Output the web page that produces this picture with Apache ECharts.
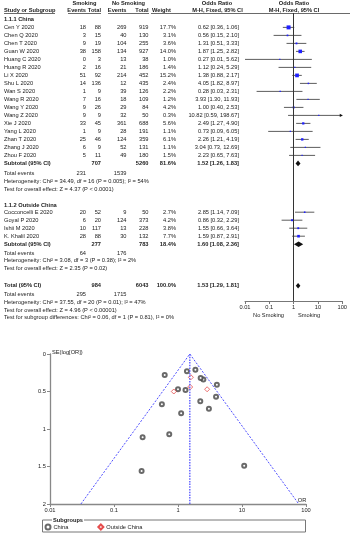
<!DOCTYPE html>
<html>
<head>
<meta charset="utf-8">
<script src="https://cdn.jsdelivr.net/npm/echarts@6/dist/echarts.min.js"></script>
<style>
html, body { margin: 0; padding: 0; background: #fff; }
#main { width: 350px; height: 533px; }
</style>
</head>
<body>
<div id="main"></div>
<script>
// ---- data ----
var chinaStudies = ['Cen Y 2020', 'Chen Q 2020', 'Chen T 2020', 'Guan W 2020', 'Huang C 2020', 'Huang R 2020', 'Li X 2020', 'Shu L 2020', 'Wan S 2020', 'Wang R 2020', 'Wang Y 2020', 'Wang Z 2020', 'Xie J 2020', 'Yang L 2020', 'Zhan T 2020', 'Zhang J 2020', 'Zhou F 2020'];
var chinaSmokEvents = [18, 3, 9, 38, 0, 2, 51, 14, 1, 7, 9, 9, 33, 1, 25, 6, 5];
var chinaSmokTotal = [88, 15, 19, 158, 3, 16, 92, 136, 9, 16, 26, 9, 45, 9, 46, 9, 11];
var chinaNoEvents = [269, 40, 104, 134, 13, 21, 214, 12, 39, 18, 29, 32, 361, 28, 124, 52, 49];
var chinaNoTotal = [919, 130, 255, 927, 38, 186, 452, 435, 126, 109, 84, 50, 688, 191, 359, 131, 180];
var chinaWeight = [17.7, 3.1, 3.6, 14.0, 1.0, 1.4, 15.2, 2.4, 2.2, 1.2, 4.2, 0.3, 5.6, 1.1, 6.1, 1.1, 1.5];
var chinaOR = [0.62, 0.56, 1.31, 1.87, 0.27, 1.12, 1.38, 4.05, 0.28, 3.93, 1.00, 10.82, 2.49, 0.73, 2.26, 3.04, 2.23];
var chinaLow = [0.36, 0.15, 0.51, 1.25, 0.01, 0.24, 0.88, 1.82, 0.03, 1.30, 0.40, 0.59, 1.27, 0.09, 1.21, 0.73, 0.65];
var chinaHigh = [1.06, 2.10, 3.33, 2.82, 5.62, 5.29, 2.17, 8.97, 2.31, 11.93, 2.53, 198.67, 4.90, 6.05, 4.19, 12.69, 7.63];
var chinaSE = [0.28, 0.67, 0.48, 0.21, 1.56, 0.79, 0.23, 0.41, 1.11, 0.57, 0.47, 1.49, 0.34, 1.07, 0.32, 0.73, 0.63];

var outsideStudies = ['Cocconcelli E 2020', 'Goyal P 2020', 'Ishii M 2020', 'K. Khalil 2020'];
var outsideSmokEvents = [20, 6, 10, 28];
var outsideSmokTotal = [52, 20, 117, 88];
var outsideNoEvents = [9, 124, 13, 30];
var outsideNoTotal = [50, 373, 228, 132];
var outsideWeight = [2.7, 4.2, 3.8, 7.7];
var outsideOR = [2.85, 0.86, 1.55, 1.59];
var outsideLow = [1.14, 0.32, 0.66, 0.87];
var outsideHigh = [7.09, 2.29, 3.64, 2.91];
var outsideSE = [0.47, 0.50, 0.44, 0.31];

// China subtotal, outside subtotal, overall total
var summaryLabels = ['Subtotal (95% CI)', 'Subtotal (95% CI)', 'Total (95% CI)'];
var summarySmokTotal = [707, 277, 984];
var summaryNoTotal = [5260, 783, 6043];
var summaryWeight = [81.6, 18.4, 100.0];
var summaryOR = [1.52, 1.60, 1.53];
var summaryLow = [1.26, 1.08, 1.29];
var summaryHigh = [1.83, 2.36, 1.81];
var totalEventsSmok = [231, 64, 295];
var totalEventsNo = [1539, 176, 1715];
var heterogeneityText = [
    'Heterogeneity: Chi\u00b2 = 34.49, df = 16 (P = 0.005); I\u00b2 = 54%',
    'Heterogeneity: Chi\u00b2 = 3.08, df = 3 (P = 0.38); I\u00b2 = 2%',
    'Heterogeneity: Chi\u00b2 = 37.55, df = 20 (P = 0.01); I\u00b2 = 47%'
];
var overallText = [
    'Test for overall effect: Z = 4.37 (P < 0.0001)',
    'Test for overall effect: Z = 2.35 (P = 0.02)',
    'Test for overall effect: Z = 4.96 (P < 0.00001)'
];
var subgroupText = 'Test for subgroup differences: Chi\u00b2 = 0.06, df = 1 (P = 0.81), I\u00b2 = 0%';

// funnel plot guide lines
var pooledOR = 1.53;
var funnelEdges = [[0.0304, 2], [1.53, 0], [77, 2]];
var funnelCentre = [[1.53, 0], [1.53, 2]];

// ---- layout ----
var FONT = '"Liberation Sans", Arial, sans-serif';
var FS = 5.7;
var TXT = '#222';
function rowPx(r) { return 13 + 8 * r; }
var col = { name: 4, se: 86, st: 101, ne: 126.5, nt: 148.5, w: 176, or: 239 };
var rows = {
    head1: -1.2, head2: -0.35,
    chinaHead: 0.75, chinaFirst: 1.8,
    outsideHead: 24, outsideFirst: 24.9,
    total: 34.1
};
rows.chinaSub = rows.chinaFirst + chinaStudies.length;
rows.outsideSub = rows.outsideFirst + outsideStudies.length;

var g = [];
function txt(x, r, s, align, bold) {
    g.push({
        type: 'text', silent: true,
        style: {
            text: s, x: x, y: rowPx(r), align: align || 'left', verticalAlign: 'middle',
            fill: TXT, font: (bold ? 'bold ' : '') + FS + 'px ' + FONT
        }
    });
}
function hline(x1, x2, y) {
    g.push({ type: 'line', silent: true, shape: { x1: x1, y1: y, x2: x2, y2: y }, style: { stroke: '#444', lineWidth: 0.8 } });
}
function fmtCI(o, l, h) { return o.toFixed(2) + ' [' + l.toFixed(2) + ', ' + h.toFixed(2) + ']'; }

// headers
txt(84.5, rows.head1, 'Smoking', 'center', true);
txt(128.5, rows.head1, 'No Smoking', 'center', true);
txt(217, rows.head1, 'Odds Ratio', 'center', true);
txt(294, rows.head1, 'Odds Ratio', 'center', true);
txt(col.name, rows.head2, 'Study or Subgroup', 'left', true);
txt(col.se, rows.head2, 'Events', 'right', true);
txt(col.st, rows.head2, 'Total', 'right', true);
txt(col.ne, rows.head2, 'Events', 'right', true);
txt(col.nt, rows.head2, 'Total', 'right', true);
txt(152, rows.head2, 'Weight', 'left', true);
txt(217.5, rows.head2, 'M-H, Fixed, 95% CI', 'center', true);
txt(294, rows.head2, 'M-H, Fixed, 95% CI', 'center', true);
hline(4, 55, 13.5);
hline(68, 101, 13.5);
hline(108, 149, 13.5);
hline(151, 350, 13.5);

function studyRows(names, se, st, ne, nt, w, o, l, h, first) {
    names.forEach(function (n, i) {
        var r = first + i;
        txt(col.name, r, n);
        txt(col.se, r, String(se[i]), 'right');
        txt(col.st, r, String(st[i]), 'right');
        txt(col.ne, r, String(ne[i]), 'right');
        txt(col.nt, r, String(nt[i]), 'right');
        txt(col.w, r, w[i].toFixed(1) + '%', 'right');
        txt(col.or, r, fmtCI(o[i], l[i], h[i]), 'right');
    });
}
function summaryBlock(k, r) {
    txt(col.name, r, summaryLabels[k], 'left', true);
    txt(col.st, r, String(summarySmokTotal[k]), 'right', true);
    txt(col.nt, r, String(summaryNoTotal[k]), 'right', true);
    txt(col.w, r, summaryWeight[k].toFixed(1) + '%', 'right', true);
    txt(col.or, r, fmtCI(summaryOR[k], summaryLow[k], summaryHigh[k]), 'right', true);
    var r2 = r + (k === 0 ? 1.3 : 1.1);
    txt(col.name, r2, 'Total events');
    txt(col.se, r2, String(totalEventsSmok[k]), 'right');
    txt(col.ne, r2, String(totalEventsNo[k]), 'right');
    txt(col.name, r2 + 0.95, heterogeneityText[k]);
    txt(col.name, r2 + 1.95, overallText[k]);
}

txt(col.name, rows.chinaHead, '1.1.1 China', 'left', true);
studyRows(chinaStudies, chinaSmokEvents, chinaSmokTotal, chinaNoEvents, chinaNoTotal, chinaWeight, chinaOR, chinaLow, chinaHigh, rows.chinaFirst);
summaryBlock(0, rows.chinaSub);
txt(col.name, rows.outsideHead, '1.1.2 Outside China', 'left', true);
studyRows(outsideStudies, outsideSmokEvents, outsideSmokTotal, outsideNoEvents, outsideNoTotal, outsideWeight, outsideOR, outsideLow, outsideHigh, rows.outsideFirst);
summaryBlock(1, rows.outsideSub);
summaryBlock(2, rows.total);
txt(col.name, rows.total + 3.95, subgroupText);

// forest axis captions
g.push({ type: 'text', silent: true, style: { text: 'No Smoking', x: 284, y: 315.7, align: 'right', verticalAlign: 'middle', fill: TXT, font: FS + 'px ' + FONT } });
g.push({ type: 'text', silent: true, style: { text: 'Smoking', x: 298, y: 315.7, align: 'left', verticalAlign: 'middle', fill: TXT, font: FS + 'px ' + FONT } });

// funnel captions and legend frame
g.push({ type: 'text', silent: true, style: { text: 'SE(log[OR])', x: 52, y: 352, align: 'left', verticalAlign: 'middle', fill: TXT, font: FS + 'px ' + FONT } });
g.push({ type: 'text', silent: true, style: { text: 'OR', x: 302, y: 500.5, align: 'center', verticalAlign: 'middle', fill: TXT, font: FS + 'px ' + FONT } });
g.push({ type: 'rect', silent: true, shape: { x: 42.5, y: 520, width: 263, height: 12 }, style: { fill: 'none', stroke: '#777', lineWidth: 1 } });
g.push({ type: 'text', silent: true, z: 10, style: { text: 'Subgroups', x: 52, y: 520, align: 'left', verticalAlign: 'middle', fill: TXT, font: 'bold ' + FS + 'px ' + FONT, backgroundColor: '#fff', padding: [0, 1] } });

// ---- forest marks ----
var studyData = [];
chinaOR.forEach(function (v, i) { studyData.push([chinaLow[i], v, chinaHigh[i], rows.chinaFirst + i, chinaWeight[i]]); });
outsideOR.forEach(function (v, i) { studyData.push([outsideLow[i], v, outsideHigh[i], rows.outsideFirst + i, outsideWeight[i]]); });
var summaryRows = [rows.chinaSub, rows.outsideSub, rows.total];
var diamondData = summaryOR.map(function (v, k) { return [summaryLow[k], v, summaryHigh[k], summaryRows[k]]; });

var X_MIN = 0.01, X_MAX = 100;
function renderStudy(params, api) {
    var row = api.value(3);
    var hi = api.value(2);
    var p0 = api.coord([Math.max(api.value(0), X_MIN), row]);
    var p1 = api.coord([Math.min(hi, X_MAX), row]);
    var pe = api.coord([api.value(1), row]);
    var s = Math.max(1.2, Math.sqrt(api.value(4)) * 0.95);
    var children = [
        { type: 'line', shape: { x1: p0[0], y1: p0[1], x2: p1[0], y2: p1[1] }, style: { stroke: '#333', lineWidth: 0.8 } },
        { type: 'rect', shape: { x: pe[0] - s / 2, y: pe[1] - s / 2, width: s, height: s }, style: { fill: '#1f1fff' } }
    ];
    if (hi > X_MAX) {
        children.push({ type: 'polygon', shape: { points: [[p1[0] + 0.5, p1[1]], [p1[0] - 2.5, p1[1] - 1.6], [p1[0] - 2.5, p1[1] + 1.6]] }, style: { fill: '#111' } });
    }
    return { type: 'group', children: children };
}
function renderDiamond(params, api) {
    var row = api.value(3);
    var a = api.coord([api.value(0), row]);
    var b = api.coord([api.value(1), row]);
    var c = api.coord([api.value(2), row]);
    var h = 2.8;
    return {
        type: 'polygon',
        shape: { points: [[a[0] - 0.5, a[1]], [b[0], b[1] - h], [c[0] + 0.5, c[1]], [b[0], b[1] + h]] },
        style: { fill: '#111' }
    };
}

var chart = echarts.init(document.getElementById('main'), null, { renderer: 'canvas' });
var axisLabelStyle = { fontSize: FS, color: TXT, fontFamily: FONT };
function logLabel(v) { return String(+Number(v).toPrecision(2)); }

var option = {
    animation: false,
    backgroundColor: '#fff',
    grid: [
        { left: 245, top: 13, width: 98.5, height: 288 },
        { left: 50, top: 354, width: 256, height: 150 }
    ],
    xAxis: [
        {
            gridIndex: 0, type: 'log', logBase: 10, min: X_MIN, max: X_MAX,
            axisLine: { onZero: false, lineStyle: { color: '#777', width: 1 } },
            axisTick: { length: 3, lineStyle: { color: '#777' } },
            axisLabel: Object.assign({ margin: 3, formatter: logLabel }, axisLabelStyle),
            splitLine: { show: false }
        },
        {
            gridIndex: 1, type: 'log', logBase: 10, min: X_MIN, max: X_MAX,
            axisLine: { onZero: false, lineStyle: { color: '#888', width: 1.3 } },
            axisTick: { length: 3, lineStyle: { color: '#888' } },
            axisLabel: Object.assign({ margin: 3, formatter: logLabel }, axisLabelStyle),
            splitLine: { show: false }
        }
    ],
    yAxis: [
        { gridIndex: 0, type: 'value', inverse: true, min: 0, max: 36, show: false },
        {
            gridIndex: 1, type: 'value', inverse: true, min: 0, max: 2, interval: 0.5,
            axisLine: { show: true, onZero: false, lineStyle: { color: '#888', width: 1.3 } },
            axisTick: { show: true, length: 3, lineStyle: { color: '#888' } },
            axisLabel: Object.assign({ margin: 4 }, axisLabelStyle),
            splitLine: { show: false }
        }
    ],
    legend: {
        left: 44.5, top: 523.5, padding: 0, itemWidth: 5, itemHeight: 5, itemGap: 29,
        data: ['China', 'Outside China'],
        textStyle: { fontSize: FS, color: TXT, fontFamily: FONT, padding: [0, 0, 0, -2] },
        selectedMode: false
    },
    series: [
        {
            type: 'scatter', xAxisIndex: 0, yAxisIndex: 0, data: [], silent: true,
            markLine: {
                silent: true, symbol: 'none', animation: false,
                label: { show: false },
                lineStyle: { color: '#333', width: 1, type: 'solid' },
                data: [{ xAxis: 1 }]
            }
        },
        {
            type: 'custom', xAxisIndex: 0, yAxisIndex: 0, silent: true,
            encode: { x: [0, 1, 2], y: 3 },
            renderItem: renderStudy, data: studyData
        },
        {
            type: 'custom', xAxisIndex: 0, yAxisIndex: 0, silent: true,
            encode: { x: [0, 1, 2], y: 3 },
            renderItem: renderDiamond, data: diamondData
        },
        {
            type: 'line', xAxisIndex: 1, yAxisIndex: 1, silent: true, symbol: 'none',
            data: funnelEdges,
            lineStyle: { color: '#5050ff', width: 1, type: [2, 1.5] }
        },
        {
            type: 'line', xAxisIndex: 1, yAxisIndex: 1, silent: true, symbol: 'none',
            data: funnelCentre,
            lineStyle: { color: '#5050ff', width: 1.3, type: [1.5, 1.2] }
        },
        {
            name: 'China', type: 'scatter', xAxisIndex: 1, yAxisIndex: 1,
            symbol: 'emptyCircle', symbolSize: 4,
            itemStyle: { color: '#444', borderWidth: 0.7 },
            data: chinaOR.map(function (v, i) { return [v, chinaSE[i]]; })
        },
        {
            name: 'Outside China', type: 'scatter', xAxisIndex: 1, yAxisIndex: 1,
            symbol: 'diamond', symbolSize: 5,
            itemStyle: { color: '#fff', borderColor: '#e02020', borderWidth: 0.8 },
            data: outsideOR.map(function (v, i) { return [v, outsideSE[i]]; })
        }
    ],
    graphic: g
};
chart.setOption(option);
</script>
</body>
</html>
